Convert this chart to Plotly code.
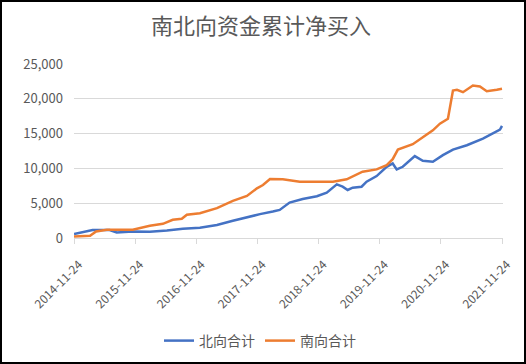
import plotly.graph_objects as go

title_text = "南北向资金累计净买入"

north_dates = ["2014-11-24", "2015-02-08", "2015-03-15", "2015-06-25", "2015-08-06", "2015-11-10",
               "2016-02-20", "2016-06-01", "2016-09-04", "2016-12-15", "2017-03-27", "2017-06-30",
               "2017-10-10", "2017-12-09", "2018-02-24", "2018-04-06", "2018-06-04", "2018-08-21",
               "2018-11-14", "2019-01-12", "2019-03-13", "2019-04-17", "2019-05-17", "2019-06-16",
               "2019-08-08", "2019-09-07", "2019-11-06", "2020-01-05", "2020-02-10", "2020-03-05",
               "2020-04-10", "2020-06-21", "2020-08-08", "2020-10-07", "2020-12-06", "2021-02-04",
               "2021-04-28", "2021-08-02", "2021-11-12", "2021-11-24"]
north_values = [570, 950, 1150, 1150, 800, 950,
                900, 1080, 1330, 1470, 1860, 2470,
                3090, 3430, 3800, 4040, 5090, 5610,
                6000, 6510, 7710, 7370, 6900, 7230,
                7370, 8090, 8900, 10230, 10710, 9860,
                10230, 11760, 11090, 10950, 11900, 12710,
                13330, 14290, 15570, 16100]

south_dates = ["2014-11-24", "2015-02-28", "2015-04-05", "2015-06-08", "2015-11-10", "2016-02-20",
               "2016-05-08", "2016-07-06", "2016-08-29", "2016-09-28", "2016-12-15", "2017-03-27",
               "2017-06-30", "2017-09-22", "2017-11-21", "2017-12-27", "2018-02-07", "2018-04-24",
               "2018-08-04", "2018-11-14", "2019-02-18", "2019-05-11", "2019-08-14", "2019-11-06",
               "2020-01-05", "2020-02-10", "2020-03-12", "2020-06-09", "2020-08-08", "2020-10-07",
               "2020-11-18", "2021-01-05", "2021-02-04", "2021-02-28", "2021-04-05", "2021-06-03",
               "2021-07-15", "2021-08-25", "2021-10-24", "2021-11-24"]
south_values = [230, 330, 950, 1190, 1190, 1760,
                2040, 2610, 2760, 3330, 3570, 4290,
                5330, 6040, 7140, 7610, 8470, 8430,
                8090, 8140, 8090, 8430, 9520, 9860,
                10470, 11330, 12710, 13470, 14520, 15470,
                16430, 17140, 21190, 21290, 20950, 21900,
                21760, 21090, 21290, 21430]

tick_dates = ["2014-11-24", "2015-11-24", "2016-11-24", "2017-11-24",
              "2018-11-24", "2019-11-24", "2020-11-24", "2021-11-24"]
y_ticks = [0, 5000, 10000, 15000, 20000, 25000]

W, H = 526, 364
L, R, T, B = 74, 23, 64, 126
pw, ph = W - L - R, H - T - B

grey = "#595959"
font_fam = "Noto Sans CJK SC, Noto Sans, sans-serif"

fig = go.Figure()
fig.add_trace(go.Scatter(x=north_dates, y=north_values, mode="lines", name="北向合计",
                         line=dict(color="#4472C4", width=2.5)))
fig.add_trace(go.Scatter(x=south_dates, y=south_values, mode="lines", name="南向合计",
                         line=dict(color="#ED7D31", width=2.5)))

def px_x(p):
    return (p - L) / pw

def px_y(p):
    return (H - B - p) / ph

fig.update_layout(
    width=W, height=H,
    margin=dict(l=L, r=R, t=T, b=B, pad=0, autoexpand=False),
    paper_bgcolor="white", plot_bgcolor="white",
    title=dict(text=title_text, x=px_x(261), xanchor="center", xref="paper",
               y=1 - 26 / H, yanchor="middle",
               font=dict(family=font_fam, size=22, color=grey)),
    font=dict(family=font_fam, color=grey, size=13),
    showlegend=True,
    legend=dict(orientation="h", x=px_x(260), xanchor="center", y=px_y(341), yanchor="middle",
                font=dict(size=14, color=grey), tracegroupgap=0),
    xaxis=dict(type="date", range=["2014-11-24", "2021-11-30"], automargin=False,
               tickvals=tick_dates, ticktext=tick_dates, tickangle=-45,
               ticklabelshift=5, ticklabelstandoff=9,
               showgrid=False, showline=True, linecolor="#d9d9d9", linewidth=1,
               ticks="outside", ticklen=5, tickcolor="#d9d9d9",
               tickfont=dict(size=12, color=grey), zeroline=False),
    yaxis=dict(range=[0, 25000], tickvals=y_ticks, tickformat=",d", automargin=False,
               showgrid=True, gridcolor="#d9d9d9", gridwidth=1, zeroline=False,
               showline=False, ticks="", ticklabelstandoff=10,
               tickfont=dict(size=13, color=grey)),
    shapes=[dict(type="rect", xref="paper", yref="paper",
                 x0=px_x(1), x1=px_x(525), y0=px_y(363), y1=px_y(1),
                 line=dict(color="black", width=2), fillcolor="rgba(0,0,0,0)", layer="above")],
)

fig.write_html("out.html", config={"displayModeBar": False},
               post_script="document.body.style.margin='0';")
